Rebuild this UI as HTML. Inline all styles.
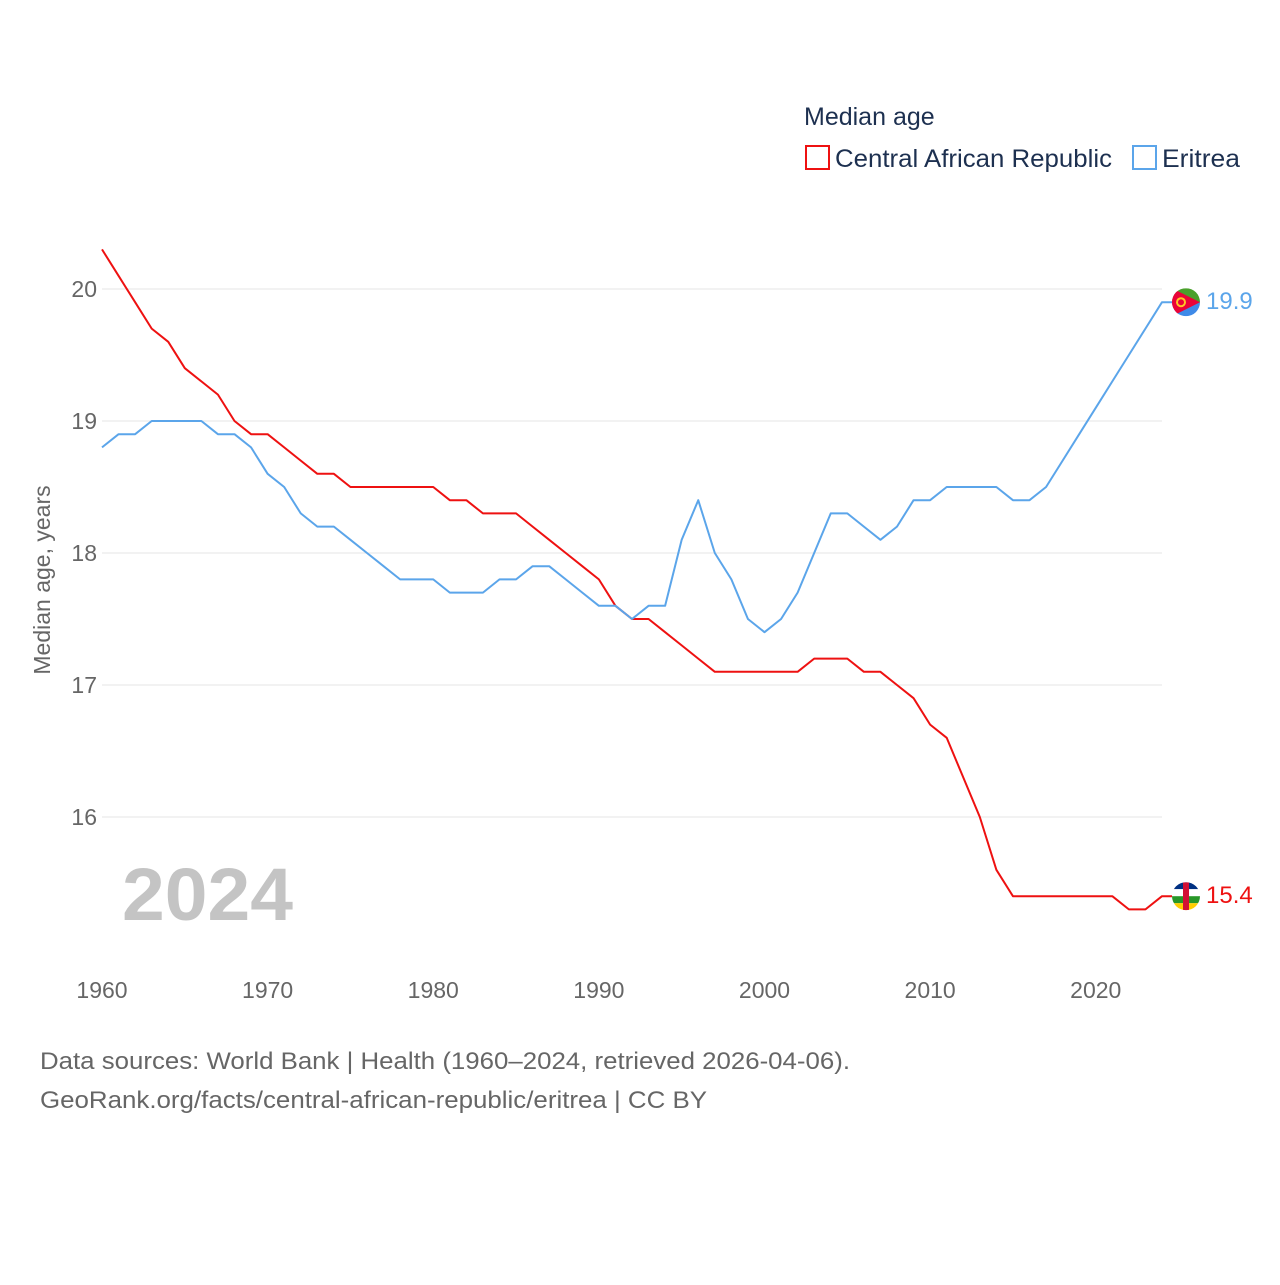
<!DOCTYPE html>
<html><head><meta charset="utf-8"><style>
body{margin:0;background:#fff;font-family:"Liberation Sans",sans-serif;}
svg text{font-family:"Liberation Sans",sans-serif;}
</style></head><body>
<svg id="chart" width="1280" height="1280" viewBox="0 0 1280 1280">
<text x="804" y="125" font-size="25" fill="#1d3050">Median age</text>
<g><rect x="806" y="146" width="23" height="23" fill="none" stroke="#ee1111" stroke-width="2"/><text x="835" y="167" font-size="25" fill="#1d3050" textLength="277" lengthAdjust="spacingAndGlyphs">Central African Republic</text></g>
<g><rect x="1133" y="146" width="23" height="23" fill="none" stroke="#5ba5ea" stroke-width="2"/><text x="1162" y="167" font-size="25" fill="#1d3050" textLength="78" lengthAdjust="spacingAndGlyphs">Eritrea</text></g>
<g id="grid"></g><g id="xaxis"></g>
<text transform="translate(50,580) rotate(-90)" text-anchor="middle" font-size="23" fill="#666">Median age, years</text>
<text x="122" y="920" font-size="74" font-weight="bold" fill="#c4c4c4" textLength="171" lengthAdjust="spacingAndGlyphs">2024</text>
<g id="series"></g>
<text x="40" y="1069" font-size="24" fill="#666" textLength="810" lengthAdjust="spacingAndGlyphs">Data sources: World Bank | Health (1960–2024, retrieved 2026-04-06).</text>
<text x="40" y="1108" font-size="24" fill="#666" textLength="667" lengthAdjust="spacingAndGlyphs">GeoRank.org/facts/central-african-republic/eritrea | CC BY</text>
</svg>
<script>
const years=[];for(let y=1960;y<=2024;y++)years.push(y);
const carValues=[20.3,20.1,19.9,19.7,19.6,19.4,19.3,19.2,19.0,18.9,18.9,18.8,18.7,18.6,18.6,18.5,18.5,18.5,18.5,18.5,18.5,18.4,18.4,18.3,18.3,18.3,18.2,18.1,18.0,17.9,17.8,17.6,17.5,17.5,17.4,17.3,17.2,17.1,17.1,17.1,17.1,17.1,17.1,17.2,17.2,17.2,17.1,17.1,17.0,16.9,16.7,16.6,16.3,16.0,15.6,15.4,15.4,15.4,15.4,15.4,15.4,15.4,15.3,15.3,15.4];
const eriValues=[18.8,18.9,18.9,19.0,19.0,19.0,19.0,18.9,18.9,18.8,18.6,18.5,18.3,18.2,18.2,18.1,18.0,17.9,17.8,17.8,17.8,17.7,17.7,17.7,17.8,17.8,17.9,17.9,17.8,17.7,17.6,17.6,17.5,17.6,17.6,18.1,18.4,18.0,17.8,17.5,17.4,17.5,17.7,18.0,18.3,18.3,18.2,18.1,18.2,18.4,18.4,18.5,18.5,18.5,18.5,18.4,18.4,18.5,18.7,18.9,19.1,19.3,19.5,19.7,19.9];
const yTicks=[16,17,18,19,20];
const xTicks=[1960,1970,1980,1990,2000,2010,2020];
const NS="http://www.w3.org/2000/svg";
const xs=y=>102+(y-1960)*(1060/64);
const ys=v=>289-(v-20)*132;
const svg=document.getElementById('chart');
const grid=document.getElementById('grid'),xa=document.getElementById('xaxis'),ser=document.getElementById('series');
function mk(t,a,p){const e=document.createElementNS(NS,t);for(const k in a)e.setAttribute(k,a[k]);p.appendChild(e);return e;}
const defs=mk('defs',{},svg);
yTicks.forEach(v=>{
 const l=mk('line',{x1:102,x2:1162,y1:ys(v),y2:ys(v),stroke:'#e6e6e6','stroke-width':1},grid);
 
 
 const t=mk('text',{x:97,y:ys(v)+8,'text-anchor':'end','font-size':23,fill:'#666'},grid);t.textContent=v;
 
 
});
xTicks.forEach(v=>{
 const t=mk('text',{x:xs(v),y:998,'text-anchor':'middle','font-size':23,fill:'#666'},xa);t.textContent=v;
 
 
});
function line(vals,color,name,flag){
 const last=vals[vals.length-1];
 const d=vals.map((v,i)=>(i?'L':'M')+xs(years[i])+','+ys(v)).join('')+'L'+(xs(2024)+10)+','+ys(last);
 const p=mk('path',{d:d,fill:'none',stroke:color,'stroke-width':2,'stroke-linejoin':'round'},ser);
 
 
 const cx=1186,cy=ys(last);
 const cp=mk('clipPath',{id:'clip-'+name},defs);
 mk('circle',{cx:cx,cy:cy,r:14},cp);
 const g=mk('g',{'clip-path':'url(#clip-'+name+')'},ser);
 
 
 flag(g,cx,cy);
 const t=mk('text',{x:1206,y:cy+7,'font-size':24,fill:color},ser);t.textContent=last.toFixed(1);
 
 
}
line(carValues,'#ee1111','car',(g,cx,cy)=>{
 const c=['#003082','#ffffff','#289728','#ffce00'];
 c.forEach((col,i)=>mk('rect',{x:cx-14,y:cy-14+i*7,width:28,height:7,fill:col},g));
 mk('rect',{x:cx-3,y:cy-14,width:6,height:28,fill:'#d21034'},g);
});
line(eriValues,'#5ba5ea','eritrea',(g,cx,cy)=>{
 mk('rect',{x:cx-14,y:cy-14,width:28,height:14,fill:'#4aa02c'},g);
 mk('rect',{x:cx-14,y:cy,width:28,height:14,fill:'#3e8ae8'},g);
 mk('path',{d:`M${cx-14},${cy-14}L${cx+14},${cy}L${cx-14},${cy+14}Z`,fill:'#ea0437'},g);
 mk('circle',{cx:cx-5,cy:cy,r:4,fill:'none',stroke:'#ffc726','stroke-width':2},g);
});
</script>
</body></html>
